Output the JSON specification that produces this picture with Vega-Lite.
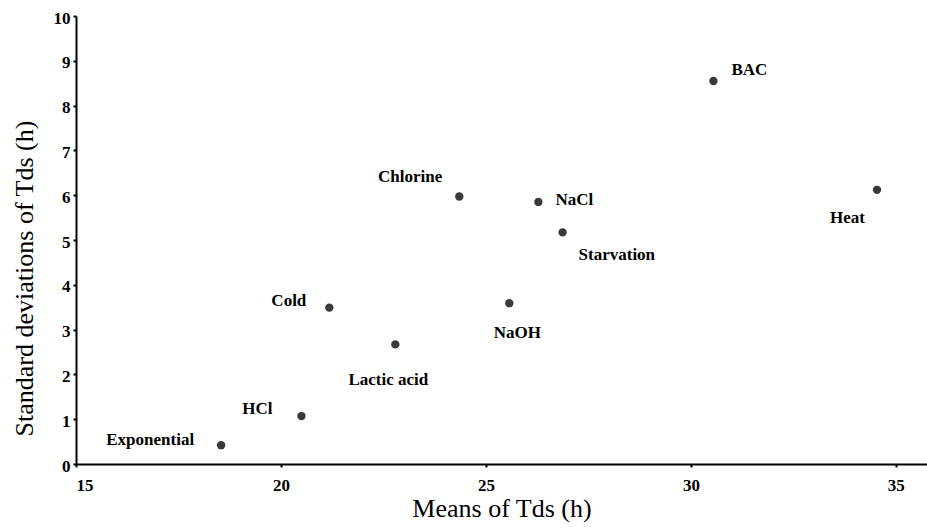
{
  "$schema": "https://vega.github.io/schema/vega-lite/v6.json",
  "autosize": "none",
  "padding": {"left": 76, "top": 16, "right": 0, "bottom": 65},
  "width": 851,
  "height": 448,
  "background": "white",
  "config": {
    "view": {"stroke": null},
    "font": "Liberation Serif",
    "axis": {
      "grid": false,
      "domainColor": "black",
      "domainWidth": 2,
      "tickColor": "black",
      "tickWidth": 2,
      "tickSize": 3,
      "labelFont": "Liberation Serif",
      "labelFontWeight": "bold",
      "labelFontSize": 17,
      "labelColor": "black",
      "titleFont": "Liberation Serif",
      "titleFontWeight": "normal",
      "titleFontSize": 26,
      "titleColor": "black"
    }
  },
  "data": {
    "values": [
      {"name": "BAC", "mean": 30.55, "sd": 8.55},
      {"name": "Heat", "mean": 34.54, "sd": 6.12},
      {"name": "Chlorine", "mean": 24.35, "sd": 5.97},
      {"name": "NaCl", "mean": 26.28, "sd": 5.85},
      {"name": "Starvation", "mean": 26.87, "sd": 5.17},
      {"name": "Cold", "mean": 21.18, "sd": 3.49},
      {"name": "NaOH", "mean": 25.57, "sd": 3.59},
      {"name": "Lactic acid", "mean": 22.79, "sd": 2.67},
      {"name": "HCl", "mean": 20.5, "sd": 1.07},
      {"name": "Exponential", "mean": 18.54, "sd": 0.42}
    ]
  },
  "encoding": {
    "x": {
      "field": "mean", "type": "quantitative",
      "scale": {"domain": [15, 35.76], "nice": false, "zero": false},
      "axis": {"values": [15, 20, 25, 30, 35], "title": "Means of Tds (h)", "titlePadding": 2, "labelPadding": 10}
    },
    "y": {
      "field": "sd", "type": "quantitative",
      "scale": {"domain": [0, 10], "nice": false},
      "axis": {"values": [0, 1, 2, 3, 4, 5, 6, 7, 8, 9, 10], "title": "Standard deviations of Tds (h)", "titlePadding": 16, "labelPadding": 3, "labelOffset": 2, "titleY": 262}
    }
  },
  "layer": [
    {"mark": {"type": "circle", "size": 70, "color": "#3a3a3a", "opacity": 1}},
    {"transform": [{"filter": "datum.name === 'BAC'"}], "mark": {"type": "text", "align": "left", "baseline": "middle", "dx": 18, "dy": -11, "fontSize": 17, "fontWeight": "bold", "color": "black"}, "encoding": {"text": {"field": "name"}}},
    {"transform": [{"filter": "datum.name === 'Heat'"}], "mark": {"type": "text", "align": "right", "baseline": "middle", "dx": -12, "dy": 28, "fontSize": 17, "fontWeight": "bold", "color": "black"}, "encoding": {"text": {"field": "name"}}},
    {"transform": [{"filter": "datum.name === 'Chlorine'"}], "mark": {"type": "text", "align": "right", "baseline": "middle", "dx": -17, "dy": -20, "fontSize": 17, "fontWeight": "bold", "color": "black"}, "encoding": {"text": {"field": "name"}}},
    {"transform": [{"filter": "datum.name === 'NaCl'"}], "mark": {"type": "text", "align": "left", "baseline": "middle", "dx": 17, "dy": -2, "fontSize": 17, "fontWeight": "bold", "color": "black"}, "encoding": {"text": {"field": "name"}}},
    {"transform": [{"filter": "datum.name === 'Starvation'"}], "mark": {"type": "text", "align": "left", "baseline": "middle", "dx": 16, "dy": 23, "fontSize": 17, "fontWeight": "bold", "color": "black"}, "encoding": {"text": {"field": "name"}}},
    {"transform": [{"filter": "datum.name === 'Cold'"}], "mark": {"type": "text", "align": "right", "baseline": "middle", "dx": -23, "dy": -7, "fontSize": 17, "fontWeight": "bold", "color": "black"}, "encoding": {"text": {"field": "name"}}},
    {"transform": [{"filter": "datum.name === 'NaOH'"}], "mark": {"type": "text", "align": "center", "baseline": "middle", "dx": 8, "dy": 30, "fontSize": 17, "fontWeight": "bold", "color": "black"}, "encoding": {"text": {"field": "name"}}},
    {"transform": [{"filter": "datum.name === 'Lactic acid'"}], "mark": {"type": "text", "align": "center", "baseline": "middle", "dx": -7, "dy": 36, "fontSize": 17, "fontWeight": "bold", "color": "black"}, "encoding": {"text": {"field": "name"}}},
    {"transform": [{"filter": "datum.name === 'HCl'"}], "mark": {"type": "text", "align": "right", "baseline": "middle", "dx": -29, "dy": -7, "fontSize": 17, "fontWeight": "bold", "color": "black"}, "encoding": {"text": {"field": "name"}}},
    {"transform": [{"filter": "datum.name === 'Exponential'"}], "mark": {"type": "text", "align": "right", "baseline": "middle", "dx": -27, "dy": -5, "fontSize": 17, "fontWeight": "bold", "color": "black"}, "encoding": {"text": {"field": "name"}}}
  ]
}
